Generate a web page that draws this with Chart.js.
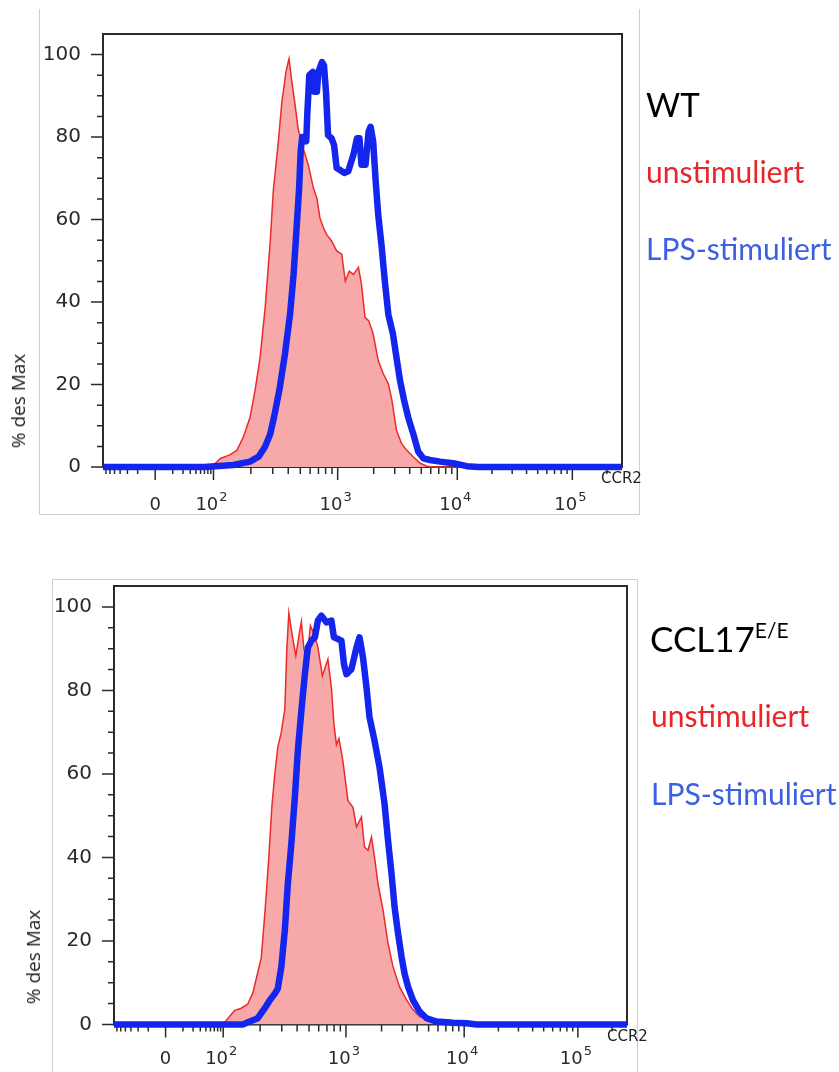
<!DOCTYPE html>
<html>
<head>
<meta charset="utf-8">
<script src="https://cdn.jsdelivr.net/npm/chart.js@4.4.1/dist/chart.umd.min.js"></script>
<style>
  body { margin: 0; background: #fff; width: 839px; height: 1072px; position: relative; overflow: hidden; }
  .box { position: absolute; border: 1px solid #cfcfcf; }
  canvas { position: absolute; left: 0; }
  .ytitle { position: absolute; font-family: "Open Sans", sans-serif; font-size: 19px; color: #222;
            white-space: nowrap; transform: translate(-50%, -50%) rotate(-90deg); }
  .xname { position: absolute; font-family: "DejaVu Sans", sans-serif; font-size: 15px; color: #222; line-height: 1; }
  .lbl { position: absolute; font-family: Lato, sans-serif; white-space: nowrap; line-height: 1; }
</style>
</head>
<body>
<div class="box" style="left:39px; top:9px; width:599px; height:505px; border-top:none;"></div>
<div class="box" style="left:52px; top:579px; width:584px; height:500px; border-bottom:none;"></div>

<canvas id="wt" width="839" height="525" style="top:0; width:839px; height:525px;"></canvas>
<canvas id="ccl" width="839" height="532" style="top:540px; width:839px; height:532px;"></canvas>

<div class="ytitle" style="left:18px; top:401px;">% des Max</div>
<div class="ytitle" style="left:33px; top:957px;">% des Max</div>
<div class="xname" style="left:601px; top:471px;">CCR2</div>
<div class="xname" style="left:607px; top:1029px;">CCR2</div>

<div class="lbl" style="left:646px; top:88px; font-size:33px; color:#000;">WT</div>
<div class="lbl" style="left:646px; top:156px; font-size:30px; color:#e8262a;">unstimuliert</div>
<div class="lbl" style="left:646px; top:233px; font-size:30px; color:#3d5fe3;">LPS-stimuliert</div>

<div class="lbl" style="left:650px; top:621px; font-size:35px; color:#000;">CCL17<span style="font-size:21px; position:relative; top:-14px;">E/E</span></div>
<div class="lbl" style="left:651px; top:700px; font-size:30px; color:#e8262a;">unstimuliert</div>
<div class="lbl" style="left:651px; top:778px; font-size:30px; color:#3d5fe3;">LPS-stimuliert</div>

<script>
// x axis is in display channels (0..1024) like the cytometry software
const tickChannels = [103, 218, 463, 699, 926];
const tickLabels = ["0", "10^2", "10^3", "10^4", "10^5"];
const yTicks = [0, 20, 40, 60, 80, 100];

// WT
const wtUnstimCh = [0, 211, 221, 231, 251, 264, 277, 290, 300, 310, 320, 330, 336, 346, 353, 361, 367, 372, 379, 385,
  395, 405, 415, 422, 428, 435, 441, 451, 461, 471, 478, 486, 494, 504, 510, 517, 524, 533, 543, 553,
  563, 570, 579, 589, 599, 612, 626, 639, 650, 1024];
const wtUnstimPct = [0, 0, 0.8, 2, 3, 4, 7.3, 12, 18.6, 26.6, 38.7, 54.8, 66.9, 79, 88.6, 95.8, 99, 94, 87.8, 82,
  77.3, 73.3, 67.7, 65.2, 60.4, 58, 56.4, 54.8, 52.4, 51.6, 45.1, 47.5, 46.7, 48.4, 44.3, 36.3, 35.5, 32.3, 25.8, 22.6,
  20.2, 16.2, 8.9, 5.7, 4.1, 2.5, 0.9, 0.2, 0, 0];
const wtLpsCh = [0, 200, 257, 290, 307, 320, 330, 339, 349, 359, 369, 376, 382, 387, 390, 393, 401, 403, 407, 414, 417,
  422, 425, 432, 436, 440, 444, 451, 456, 461, 468, 476, 484, 494, 501, 506, 510, 518, 524, 528, 533,
  538, 543, 550, 556, 563, 572, 578, 586, 594, 602, 612, 622, 632, 645, 665, 691, 718, 740, 1024];
const wtLpsPct = [0, 0, 0.5, 1.3, 2.5, 5, 8, 13, 19.4, 27.4, 37, 46.7, 58, 67.7, 76.5, 80, 79, 85.4, 95, 95.8, 91,
  91, 95.8, 98.2, 97.4, 91, 80.5, 79.7, 78, 72.5, 72, 71.3, 71.7, 75.7, 79.7, 79.7, 73.3, 73.3, 81.3, 82.5, 79,
  69.3, 61.2, 53.2, 45.1, 37, 32.3, 27.4, 21, 16.2, 12.1, 8.1, 3.7, 2.1, 1.7, 1.3, 0.9, 0.2, 0, 0];

// CCL17 E/E
const cclUnstimCh = [0, 211, 221, 231, 241, 254, 267, 277, 285, 294, 302, 309, 315, 321, 327, 334, 341, 345, 349, 356,
  363, 369, 374, 379, 385, 392, 401, 407, 416, 427, 434, 439, 444, 449, 457, 467, 477, 484, 494, 500,
  507, 514, 520, 527, 537, 547, 557, 570, 584, 597, 610, 630, 650, 667, 680, 690, 1024];
const cclUnstimPct = [0, 0, 0.5, 2, 3.4, 3.9, 4.9, 7.5, 11.5, 16, 28, 40, 52, 60, 66.4, 70, 75.5, 90, 98.6, 93,
  88.3, 93, 96.5, 90, 87, 95.5, 93, 90.3, 83.5, 87.5, 80.5, 72, 67, 68.5, 63, 53.6, 52, 47.3, 49.7, 42.5,
  41.7, 44.9, 40.1, 33.7, 27.4, 19.4, 13.8, 9, 5.9, 3.5, 1.9, 1.1, 0.9, 1.1, 0.3, 0, 0];
const cclLpsCh = [0, 257, 271, 287, 301, 311, 321, 327, 334, 341, 347, 354, 361, 367, 374, 381, 387, 394, 401, 407,
  414, 424, 434, 439, 447, 454, 459, 464, 474, 484, 490, 497, 504, 510, 520, 530, 540, 547, 554, 560,
  567, 574, 580, 587, 597, 610, 624, 644, 677, 704, 724, 1024];
const cclLpsPct = [0, 0, 0.7, 1.5, 3.9, 5.8, 7.4, 8.6, 13.8, 22.6, 33.7, 43.3, 54.4, 65.6, 75.1, 83.9, 90.3, 91.9, 92.7, 96.7,
  97.9, 96.3, 96.7, 92.7, 92.3, 91.9, 86.3, 83.9, 85.1, 90.3, 92.7, 87.9, 80.7, 73.6, 68, 61.6, 52.9, 44.1, 36.1, 28.2,
  21.8, 16.2, 12.2, 9, 5.8, 3.1, 1.5, 0.7, 0.4, 0.3, 0, 0];

// minor x ticks: log steps inside each decade, mirrored steps around 0
const xMinor = [];
for (let i = 1; i < tickChannels.length - 1; i++) {
  const a = tickChannels[i], b = tickChannels[i + 1];
  for (let k = 2; k <= 9; k++) xMinor.push(a + Math.log10(k) * (b - a));
}
{
  const n = tickChannels.length - 1;
  const dec = tickChannels[n] - tickChannels[n - 1];
  for (let k = 2; k <= 9; k++) {
    const v = tickChannels[n] + Math.log10(k) * dec;
    if (v < 1024) xMinor.push(v);
  }
  const lin = tickChannels[1] - tickChannels[0];
  for (let k = 2; k <= 9; k++) {
    xMinor.push(tickChannels[0] + Math.log10(k) * lin);
    const neg = tickChannels[0] - Math.log10(k) * lin;
    if (neg > 2) xMinor.push(neg);
  }
}

const toPoints = (xs, ys) => xs.map((x, i) => ({ x, y: ys[i] }));

const frameTicks = {
  id: "frameTicks",
  beforeDatasetsDraw(chart) {
    const { ctx, chartArea: a, scales } = chart;
    ctx.save();
    ctx.strokeStyle = "#2b2b2b";
    ctx.lineWidth = 2;
    ctx.strokeRect(a.left, a.top, a.right - a.left, a.bottom - a.top);
    ctx.lineWidth = 1.5;
    ctx.beginPath();
    for (let v = 0; v <= 100; v += 5) {
      const y = scales.y.getPixelForValue(v);
      const len = v % 20 === 0 ? 12 : 6;
      ctx.moveTo(a.left - len, y);
      ctx.lineTo(a.left, y);
    }
    tickChannels.forEach(c => {
      const x = scales.x.getPixelForValue(c);
      ctx.moveTo(x, a.bottom);
      ctx.lineTo(x, a.bottom + 13);
    });
    xMinor.forEach(c => {
      const x = scales.x.getPixelForValue(c);
      ctx.moveTo(x, a.bottom);
      ctx.lineTo(x, a.bottom + 7);
    });
    ctx.stroke();
    ctx.restore();
  },
  // decade labels with a real raised exponent
  afterDraw(chart, args, opts) {
    const { ctx, chartArea: a, scales } = chart;
    const y = a.bottom + opts.labelDrop;
    const mainFont = '18px "DejaVu Sans"';
    const supFont = '13px "DejaVu Sans"';
    ctx.save();
    ctx.fillStyle = "#2a2a2a";
    ctx.textAlign = "left";
    ctx.textBaseline = "alphabetic";
    tickLabels.forEach((lab, i) => {
      const [base, exp] = lab.split("^");
      ctx.font = mainFont;
      const wb = ctx.measureText(base).width;
      ctx.font = supFont;
      const we = exp ? ctx.measureText(exp).width + 1 : 0;
      const x0 = scales.x.getPixelForValue(tickChannels[i]) - (wb + we) / 2 - (exp ? 2 : 0);
      ctx.font = mainFont;
      ctx.fillText(base, x0, y);
      if (exp) {
        ctx.font = supFont;
        ctx.fillText(exp, x0 + wb + 1, y - 9);
      }
    });
    ctx.restore();
  }
};

function histChart(id, unCh, unPct, lpsCh, lpsPct, pad, yWidth, xHeight, labelDrop) {
  return new Chart(document.getElementById(id), {
    type: "line",
    data: {
      datasets: [
        {
          data: toPoints(lpsCh, lpsPct),
          borderColor: "#1426ee",
          borderWidth: 6.5,
          borderJoinStyle: "round",
          fill: false,
          clip: 10,
          order: 0
        },
        {
          data: toPoints(unCh, unPct),
          borderColor: "#ec2a2a",
          borderWidth: 1.5,
          backgroundColor: "#f7a9a9",
          fill: "origin",
          clip: 10,
          order: 1
        }
      ]
    },
    options: {
      responsive: false,
      animation: false,
      devicePixelRatio: 1,
      layout: { padding: pad },
      elements: { point: { radius: 0 }, line: { tension: 0 } },
      plugins: {
        legend: { display: false },
        tooltip: { enabled: false },
        frameTicks: { labelDrop }
      },
      scales: {
        x: {
          type: "linear",
          min: 0,
          max: 1024,
          afterBuildTicks: s => { s.ticks = tickChannels.map(v => ({ value: v })); },
          afterFit: s => { s.height = xHeight; },
          grid: { display: false, drawTicks: false },
          border: { display: false },
          ticks: { display: false }
        },
        y: {
          min: 0,
          max: 105,
          afterBuildTicks: s => { s.ticks = yTicks.map(v => ({ value: v })); },
          afterFit: s => { s.width = yWidth; },
          grid: { display: false, drawTicks: false },
          border: { display: false },
          ticks: {
            padding: 22,
            color: "#2a2a2a",
            font: { family: "DejaVu Sans", size: 20 },
            callback: v => String(v)
          }
        }
      }
    },
    plugins: [frameTicks]
  });
}

histChart("wt", wtUnstimCh, wtUnstimPct, wtLpsCh, wtLpsPct,
  { left: 0, top: 32, right: 217, bottom: 0 }, 103, 58, 43);
histChart("ccl", cclUnstimCh, cclUnstimPct, cclLpsCh, cclLpsPct,
  { left: 0, top: 46, right: 212, bottom: 0 }, 114, 47.5, 39);
</script>
</body>
</html>
